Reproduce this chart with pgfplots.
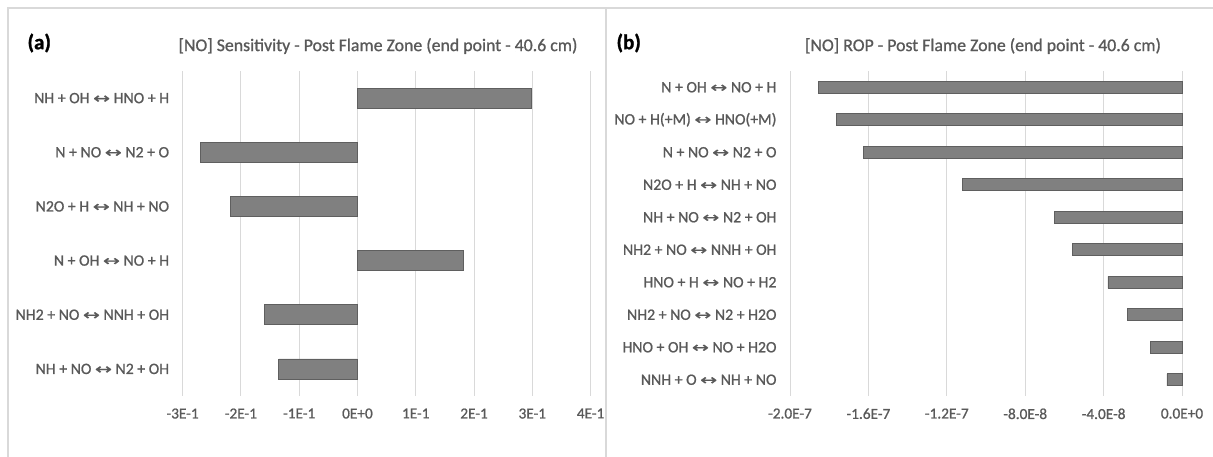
\documentclass[border=0pt]{standalone}
\usepackage{pgfplots}
\pgfplotsset{compat=1.18}
\usepackage{graphicx}
\usepackage{fontspec}
\setmainfont{Carlito}[FakeBold=1.2]
\newfontfamily\medfont{Carlito}[FakeBold=1.0]
\newfontfamily\arrfont{DejaVu Sans}[FakeBold=0.8]
\newcommand{\ar}{\scalebox{1.4}[1]{\arrfont\fontsize{14.5}{15}\selectfont ↔}}
\definecolor{txtgray}{HTML}{595959}
\definecolor{gridgray}{HTML}{D9D9D9}
\definecolor{barfill}{HTML}{808080}
\definecolor{bardraw}{HTML}{5F5F5F}
\pgfplotstableread{
y v
0 0.298
1 -0.270
2 -0.218
3 0.181
4 -0.160
5 -0.135
}\sensA
\pgfplotstableread{
y v
0 -1.857e-7
1 -1.764e-7
2 -1.623e-7
3 -1.122e-7
4 -6.53e-8
5 -5.60e-8
6 -3.78e-8
7 -2.79e-8
8 -1.60e-8
9 -7.7e-9
}\ropB
\pgfplotsset{
  panel/.style={
    scale only axis,
    xbar,
    y dir=reverse,
    axis line style={draw=none},
    major tick length=0pt,
    xmajorgrids,
    grid style={color=gridgray, line width=1pt},
    xticklabel style={font=\medfont\fontsize{15.3}{17}\selectfont, text=txtgray, yshift=-9pt},
    yticklabel style={font=\medfont\fontsize{15.8}{17}\selectfont, text=txtgray, xshift=-10pt},
    clip=false,
  }
}
\begin{document}
\begin{tikzpicture}[x=1pt,y=1pt]
\path[use as bounding box] (0,0) rectangle (1213,-457);
\draw[gridgray, line width=1.5pt] (8,-457) -- (8,-8) -- (1213,-8);
\draw[gridgray, line width=1.5pt] (606,-8) -- (606,-457);
\node[font=\fontsize{21}{23}\selectfont\bfseries, anchor=west] at (24,-43) {(a)};
\node[font=\fontsize{21}{23}\selectfont\bfseries, anchor=west] at (613,-43) {(b)};
\node[font=\medfont\fontsize{17.8}{20}\selectfont, text=txtgray] at (378,-46) {[NO] Sensitivity - Post Flame Zone (end point - 40.6 cm)};
\node[font=\medfont\fontsize{17.8}{20}\selectfont, text=txtgray] at (983,-46) {[NO] ROP - Post Flame Zone (end point - 40.6 cm)};
\begin{axis}[panel,
  at={(182.6pt,-396pt)}, anchor=south west,
  width=408pt, height=325pt,
  xmin=-0.3, xmax=0.4, ymin=-0.5, ymax=5.5,
  bar width=20pt,
  xtick={-0.3,-0.2,-0.1,0,0.1,0.2,0.3,0.4},
  xticklabels={-3E-1,-2E-1,-1E-1,0E+0,1E-1,2E-1,3E-1,4E-1},
  ytick={0,1,2,3,4,5},
  yticklabels={NH + OH \ar{} HNO + H, N + NO \ar{} N2 + O, N2O + H \ar{} NH + NO, N + OH \ar{} NO + H, NH2 + NO \ar{} NNH + OH, NH + NO \ar{} N2 + OH},
]
\addplot[fill=barfill, draw=bardraw, line width=0.8pt] table[x=v, y=y] {\sensA};
\end{axis}
\begin{axis}[panel,
  at={(790pt,-396pt)}, anchor=south west,
  width=392pt, height=325pt,
  xmin=-2e-7, xmax=0, ymin=-0.5, ymax=9.5,
  bar width=12pt,
  xtick={-2e-7,-1.6e-7,-1.2e-7,-8e-8,-4e-8,0},
  xticklabels={-2.0E-7,-1.6E-7,-1.2E-7,-8.0E-8,-4.0E-8,0.0E+0},
  scaled x ticks=false,
  ytick={0,1,2,3,4,5,6,7,8,9},
  yticklabels={N + OH \ar{} NO + H, NO + H(+M) \ar{} HNO(+M), N + NO \ar{} N2 + O, N2O + H \ar{} NH + NO, NH + NO \ar{} N2 + OH, NH2 + NO \ar{} NNH + OH, HNO + H \ar{} NO + H2, NH2 + NO \ar{} N2 + H2O, HNO + OH \ar{} NO + H2O, NNH + O \ar{} NH + NO},
]
\addplot[fill=barfill, draw=bardraw, line width=0.8pt] table[x=v, y=y] {\ropB};
\end{axis}
\end{tikzpicture}
\end{document}
